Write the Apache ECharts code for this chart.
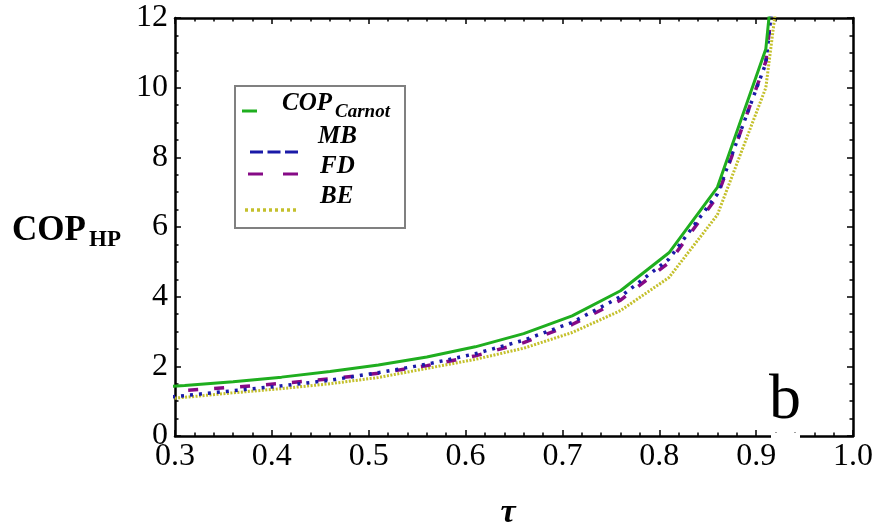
<!DOCTYPE html>
<html>
<head>
<meta charset="utf-8">
<script src="https://cdn.jsdelivr.net/npm/echarts@6/dist/echarts.min.js"></script>
<style>html,body{margin:0;padding:0;background:#fff;}#c{width:878px;height:531px;}</style>
</head>
<body>
<div id="c"></div>
<script>
// tau sample points
var tau      = [0.26, 0.31, 0.36, 0.41, 0.46, 0.51, 0.56, 0.61, 0.66, 0.71, 0.76, 0.81, 0.86, 0.91, 0.96];
var copCarnot= [1.35, 1.45, 1.56, 1.69, 1.85, 2.04, 2.27, 2.56, 2.94, 3.45, 4.17, 5.26, 7.14, 11.11, 25.0];
var copMB    = [1.02, 1.16, 1.30, 1.44, 1.60, 1.82, 2.06, 2.36, 2.75, 3.26, 4.00, 5.08, 6.95, 10.70, 23.5];
var copFD    = [1.24, 1.31, 1.40, 1.51, 1.64, 1.80, 2.02, 2.30, 2.68, 3.20, 3.90, 4.98, 6.88, 10.75, 23.0];
var copBE    = [1.00, 1.11, 1.24, 1.36, 1.50, 1.68, 1.94, 2.20, 2.52, 2.97, 3.60, 4.55, 6.35, 10.00, 21.0];
var xTicks = [0.3, 0.4, 0.5, 0.6, 0.7, 0.8, 0.9, 1.0];
var yTicks = [0, 2, 4, 6, 8, 10, 12];

function pairs(ys){ return tau.map(function(t,i){ return [t, ys[i]]; }); }

var SERIF = "'Liberation Serif','Times New Roman',serif";
var chart = echarts.init(document.getElementById('c'), null, {renderer:'canvas'});

var tickStyle = {color:'#000', width:1.5};
function xAx(pos, labels){
  return {
    type:'value', position:pos, min:xTicks[0], max:xTicks[xTicks.length-1], interval:0.1,
    axisLine:{show:true, onZero:false, lineStyle:{color:'#000', width:2.5}},
    axisTick:{show:true, inside:true, length:6, lineStyle:tickStyle},
    minorTick:{show:true, splitNumber:5, length:3.5, lineStyle:tickStyle},
    splitLine:{show:false},
    axisLabel:{show:labels, margin:5, color:'#000', fontFamily:SERIF, fontSize:32,
      formatter:function(v){ return v.toFixed(1); }}
  };
}
function yAx(pos, labels){
  return {
    type:'value', position:pos, min:yTicks[0], max:yTicks[yTicks.length-1], interval:2,
    axisLine:{show:true, onZero:false, lineStyle:{color:'#000', width:2.5}},
    axisTick:{show:true, inside:true, length:6, lineStyle:tickStyle},
    minorTick:{show:true, splitNumber:4, length:3.5, lineStyle:tickStyle},
    splitLine:{show:false},
    axisLabel:{show:labels, margin:7, color:'#000', fontFamily:SERIF, fontSize:32}
  };
}

var GREEN='#1fae1f', BLUE='#1a1aa8', PURPLE='#860a86', YELLOW='#c4c02c';

var option = {
  animation:false,
  backgroundColor:'#fff',
  grid:{left:175, right:25, top:18, bottom:95, containLabel:false},
  xAxis:[xAx('bottom', true), xAx('top', false)],
  yAxis:[yAx('left', true), yAx('right', false)],
  series:[
    {name:'BE', type:'line', data:pairs(copBE), symbol:'none', clip:true,
      lineStyle:{color:YELLOW, width:3, type:[2,1.5]}},
    {name:'FD', type:'line', data:pairs(copFD), symbol:'none', clip:true,
      lineStyle:{color:PURPLE, width:3.5, type:[10,16]}},
    {name:'MB', type:'line', data:pairs(copMB), symbol:'none', clip:true,
      lineStyle:{color:BLUE, width:3.5, type:[3,6]}},
    {name:'COPCarnot', type:'line', data:pairs(copCarnot), symbol:'none', clip:true,
      lineStyle:{color:GREEN, width:3, type:'solid'}}
  ],
  graphic:[
    // y-axis title
    {type:'text', left:12, top:213, z:50, style:{text:'COP', fontFamily:SERIF, fontWeight:'bold', fontSize:35, fill:'#000'}},
    {type:'text', left:89, top:229, z:50, style:{text:'HP', fontFamily:SERIF, fontWeight:'bold', fontSize:23, fill:'#000'}},
    // x-axis title
    {type:'text', x:508, y:513, z:50, style:{text:'τ', fontFamily:SERIF, fontWeight:'bold', fontStyle:'italic', fontSize:34, fill:'#000', align:'center', verticalAlign:'middle'}},
    // panel letter
    {type:'rect', z:60, shape:{x:771, y:433, width:29, height:6}, style:{fill:'#fff'}},
    {type:'text', x:785, y:401, z:61, style:{text:'b', fontFamily:SERIF, fontSize:64, fill:'#000', align:'center', verticalAlign:'middle'}},
    // legend box
    {type:'rect', z:70, shape:{x:235, y:86, width:170, height:142}, style:{fill:'#fff', stroke:'#808080', lineWidth:2}},
    {type:'line', z:71, shape:{x1:242, y1:111, x2:257, y2:111}, style:{stroke:GREEN, lineWidth:3}},
    {type:'line', z:71, shape:{x1:250, y1:152, x2:298, y2:152}, style:{stroke:BLUE, lineWidth:3, lineDash:[13,4.5]}},
    {type:'line', z:71, shape:{x1:248, y1:174, x2:298, y2:174}, style:{stroke:PURPLE, lineWidth:3, lineDash:[15,20]}},
    {type:'line', z:71, shape:{x1:245, y1:210, x2:298, y2:210}, style:{stroke:YELLOW, lineWidth:3.5, lineDash:[3,3]}},
    {type:'text', x:282, y:116, z:72, style:{text:'COP', fontFamily:SERIF, fontWeight:'bold', fontStyle:'italic', fontSize:25, fill:'#000', verticalAlign:'bottom'}},
    {type:'text', x:335, y:122, z:72, style:{text:'Carnot', fontFamily:SERIF, fontWeight:'bold', fontStyle:'italic', fontSize:19, fill:'#000', verticalAlign:'bottom'}},
    {type:'text', x:318, y:149, z:72, style:{text:'MB', fontFamily:SERIF, fontWeight:'bold', fontStyle:'italic', fontSize:25, fill:'#000', verticalAlign:'bottom'}},
    {type:'text', x:320, y:179, z:72, style:{text:'FD', fontFamily:SERIF, fontWeight:'bold', fontStyle:'italic', fontSize:25, fill:'#000', verticalAlign:'bottom'}},
    {type:'text', x:320, y:209, z:72, style:{text:'BE', fontFamily:SERIF, fontWeight:'bold', fontStyle:'italic', fontSize:25, fill:'#000', verticalAlign:'bottom'}}
  ]
};
chart.setOption(option);
</script>
</body>
</html>
